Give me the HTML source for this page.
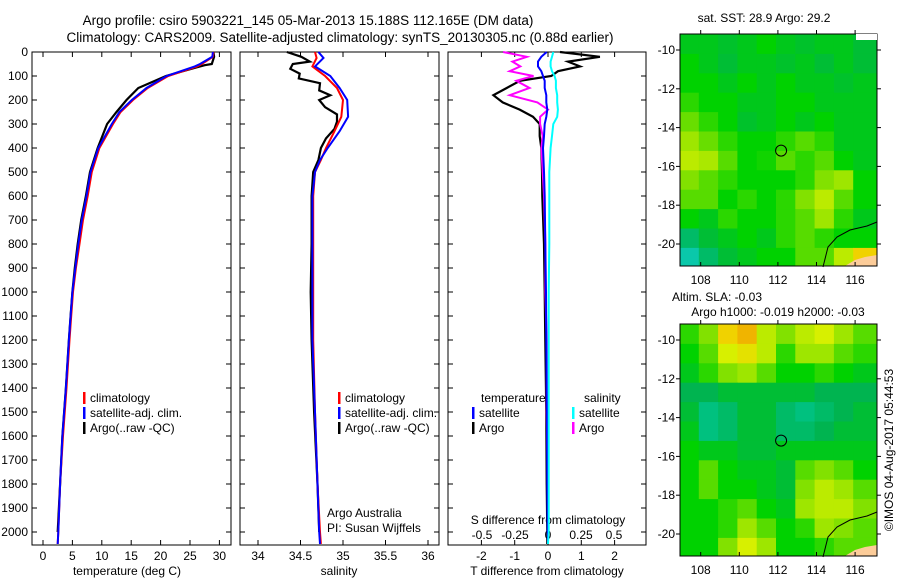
<!DOCTYPE html>
<html><head><meta charset="utf-8"><style>
body{margin:0;background:#fff}
svg{display:block;font-family:"Liberation Sans",sans-serif;font-size:12px}
</style></head><body>
<svg id="c" width="900" height="580" xmlns="http://www.w3.org/2000/svg">
<text x="308" y="25" text-anchor="middle" font-size="13.5">Argo profile: csiro 5903221_145 05-Mar-2013 15.188S 112.165E (DM data)</text>
<text x="340" y="42" text-anchor="middle" font-size="13.5">Climatology: CARS2009. Satellite-adjusted climatology: synTS_20130305.nc (0.88d earlier)</text>
<text x="764" y="22" text-anchor="middle">sat. SST: 28.9 Argo: 29.2</text>
<text x="717" y="301" text-anchor="middle">Altim. SLA: -0.03</text>
<text x="778" y="316" text-anchor="middle">Argo h1000: -0.019 h2000: -0.03</text>
<text transform="translate(893,450) rotate(-90)" text-anchor="middle">©IMOS 04-Aug-2017 05:44:53</text>
<text x="127" y="575" text-anchor="middle">temperature (deg C)</text>
<text x="339" y="575" text-anchor="middle">salinity</text>
<text x="547" y="575" text-anchor="middle">T difference from climatology</text>
<text x="548" y="524" text-anchor="middle">S difference from climatology</text>
<text x="327" y="517">Argo Australia</text>
<text x="327" y="532">PI: Susan Wijffels</text>
</svg>
<script>
const depthTicks=[0,100,200,300,400,500,600,700,800,900,1000,1100,1200,1300,1400,1500,1600,1700,1800,1900,2000];
const tempTicks=[0,5,10,15,20,25,30];
const salTicks=[34,34.5,35,35.5,36];
const salTickLabels=["34","34.5","35","35.5","36"];
const tdTicks=[-2,-1,0,1,2];
const sdTicks=[-0.5,-0.25,0,0.25,0.5];
const sdTickLabels=["-0.5","-0.25","0","0.25","0.5"];
const tDepth=[0,20,50,60,100,150,200,250,300,400,500,600,700,800,900,1000,1100,1200,1400,1600,1800,2000,2050];
const tClim=[29.0,28.9,27.0,26.2,21.3,17.8,15.3,13.2,11.9,9.6,8.3,7.6,6.8,6.2,5.6,5.1,4.8,4.5,4.0,3.4,2.9,2.6,2.5];
const tSat=[28.9,28.8,26.7,25.8,21.0,17.6,15.1,13.0,11.7,9.4,8.1,7.4,6.6,6.0,5.5,5.0,4.7,4.4,3.9,3.3,2.9,2.6,2.5];
const tArgoDepth=[0,20,50,55,65,100,150,200,250,300,400,500,600,700,800,900,1000,1100,1200,1400,1600,1800,2000];
const tArgo=[29.0,29.1,28.7,27.5,26.0,20.9,16.2,14.2,12.5,10.9,9.3,8.0,7.3,6.5,5.9,5.4,5.0,4.7,4.4,3.9,3.3,2.9,2.5];
const sDepth=[0,25,60,100,150,200,270,330,400,450,500,600,800,1000,1200,1500,1800,2000,2050];
const sSat=[34.71,34.77,34.67,34.85,34.96,35.05,35.06,34.96,34.82,34.73,34.67,34.64,34.64,34.64,34.64,34.67,34.7,34.72,34.73];
const sClim=[34.67,34.69,34.64,34.79,34.93,35.0,34.98,34.9,34.8,34.74,34.67,34.65,34.65,34.65,34.65,34.67,34.7,34.73,34.74];
const sArgoDepth=[0,20,40,50,70,90,110,130,160,180,200,230,260,290,320,360,400,450,500,600,800,1000,1200,1500,1800,2000];
const sArgo=[34.34,34.51,34.61,34.41,34.38,34.49,34.48,34.73,34.72,34.85,34.72,34.79,34.93,34.93,34.9,34.8,34.74,34.71,34.65,34.63,34.63,34.62,34.63,34.66,34.7,34.72];
const dDepth=[0,20,40,60,80,100,120,150,180,210,240,270,300,350,400,500,600,800,1000,1200,1500,1800,2000,2050];
const tdSat=[-0.04,-0.2,-0.3,-0.3,-0.2,-0.15,-0.1,-0.1,-0.05,-0.05,-0.02,-0.05,-0.1,-0.12,-0.15,-0.12,-0.1,-0.08,-0.06,-0.05,-0.03,-0.02,-0.01,0];
const sdSat=[0.04,0.03,0.02,0.02,0.03,0.05,0.06,0.06,0.07,0.07,0.075,0.07,0.04,0.03,0.02,0.01,0.01,0.01,0.005,0.005,0.005,0.005,0.005,0];
const tdArgo=[0.36,1.56,0.6,0.96,0.3,0.1,-0.84,-1.24,-1.64,-1.36,-0.85,-0.45,-0.25,-0.25,-0.2,-0.18,-0.17,-0.12,-0.1,-0.08,-0.05,-0.04,-0.02,-0.02];
const sdArgo=[-0.34,-0.16,-0.27,-0.21,-0.29,-0.11,-0.24,-0.14,-0.29,-0.08,0.0,-0.06,-0.06,-0.04,-0.05,-0.04,-0.03,-0.02,-0.02,-0.01,-0.01,0,0,0];
const sstGrid=[
[.45,.45,.42,.45,.5,.45,.42,.45,.45,.4],
[.5,.45,.4,.45,.45,.42,.45,.4,.45,.4],
[.5,.5,.45,.5,.45,.5,.45,.45,.42,.45],
[.55,.5,.5,.45,.45,.5,.5,.45,.45,.45],
[.62,.55,.5,.42,.45,.5,.45,.5,.45,.45],
[.7,.62,.55,.5,.5,.55,.6,.55,.45,.45],
[.75,.72,.6,.5,.52,.6,.55,.6,.5,.45],
[.65,.6,.55,.5,.5,.5,.55,.65,.7,.5],
[.6,.6,.5,.55,.5,.55,.65,.75,.6,.5],
[.5,.45,.55,.5,.5,.55,.6,.7,.55,.45],
[.3,.4,.45,.5,.45,.55,.6,.55,.5,.5],
[.15,.3,.4,.45,.5,.5,.6,.6,.75,.9]];
const slaGrid=[
[.55,.65,.9,.95,.75,.65,.75,.8,.7,.6],
[.5,.6,.8,.85,.75,.55,.7,.7,.6,.55],
[.45,.55,.65,.7,.6,.5,.5,.55,.5,.45],
[.35,.35,.4,.4,.4,.4,.4,.35,.35,.35],
[.4,.25,.3,.4,.4,.3,.25,.3,.35,.4],
[.45,.25,.3,.4,.4,.3,.3,.35,.4,.4],
[.5,.45,.45,.4,.4,.45,.45,.45,.45,.45],
[.5,.6,.5,.45,.45,.4,.6,.65,.6,.5],
[.5,.6,.5,.5,.45,.4,.65,.75,.7,.6],
[.5,.5,.55,.6,.5,.45,.7,.75,.75,.65],
[.5,.5,.55,.7,.6,.5,.55,.7,.65,.6],
[.5,.5,.65,.8,.7,.5,.5,.55,.6,.6]];
const lonTicks=[108,110,112,114,116];
const latTicks=[-10,-12,-14,-16,-18,-20];
const floatLon=112.165, floatLat=-15.188;

const NS="http://www.w3.org/2000/svg";
const svg=document.getElementById('c');
function mk(tag,attrs,parent){const e=document.createElementNS(NS,tag);for(const k in attrs)e.setAttribute(k,attrs[k]);(parent||svg).appendChild(e);return e;}
const Y=d=>52+d*0.24;
const P1={x0:32,x1:231},P2={x0:240,x1:439},P3={x0:448,x1:646},TOP=52,BOT=545;
const xT=v=>43+v*5.88, xS=v=>258+(v-34)*85, xTD=v=>548+v*33.3, xSD=v=>548+v*132;

function line(xs,ds,fx,color,name,w){
  const pts=xs.map((v,i)=>fx(v).toFixed(1)+','+Y(ds[i]).toFixed(1)).join(' ');
  const p=mk('polyline',{points:pts,fill:'none',stroke:color,'stroke-width':w||2});
  
  
}
function frame(P,name){
  const r=mk('rect',{x:P.x0,y:TOP,width:P.x1-P.x0,height:BOT-TOP,fill:'none',stroke:'#000','stroke-width':1});
  
  
  depthTicks.forEach(d=>{mk('line',{x1:P.x0,x2:P.x0+5,y1:Y(d),y2:Y(d),stroke:'#000'});mk('line',{x1:P.x1-5,x2:P.x1,y1:Y(d),y2:Y(d),stroke:'#000'});});
}
function xaxis(ticks,labels,fx,ly,name){
  ticks.forEach((v,i)=>{const x=fx(v);
    mk('line',{x1:x,x2:x,y1:BOT-5,y2:BOT,stroke:'#000'});mk('line',{x1:x,x2:x,y1:TOP,y2:TOP+5,stroke:'#000'});
    const t=mk('text',{x:x,y:ly,'text-anchor':'middle'});t.textContent=labels[i];
    
    });
}
frame(P1,'temperature-panel');frame(P2,'salinity-panel');frame(P3,'difference-panel');
depthTicks.forEach(d=>{const t=mk('text',{x:28,y:Y(d)+4,'text-anchor':'end'});t.textContent=d;
  
  });
xaxis(tempTicks,tempTicks.map(String),xT,560,'temperature-tick-label');
xaxis(salTicks,salTickLabels,xS,560,'salinity-tick-label');
xaxis(tdTicks,tdTicks.map(String),xTD,560,'tdiff-tick-label');
sdTicks.forEach((v,i)=>{const t=mk('text',{x:xSD(v),y:539,'text-anchor':'middle'});t.textContent=sdTickLabels[i];
  
  });

line(tArgo,tArgoDepth,xT,'#000','temp-argo-line',2.2);
line(tClim,tDepth,xT,'#f00','temp-clim-line');
line(tSat,tDepth,xT,'#00f','temp-sat-line');
line(sArgo,sArgoDepth,xS,'#000','sal-argo-line',2.2);
line(sClim,sDepth,xS,'#f00','sal-clim-line');
line(sSat,sDepth,xS,'#00f','sal-sat-line');
line(tdArgo,dDepth,xTD,'#000','tdiff-argo-line',2.2);
line(sdArgo,dDepth,xSD,'#f0f','sdiff-argo-line');
line(tdSat,dDepth,xTD,'#00f','tdiff-sat-line');
line(sdSat,dDepth,xSD,'#0ff','sdiff-sat-line');

function legend(x,y,items,name){
  items.forEach((it,i)=>{const yy=y+i*15;
    mk('rect',{x:x,y:yy-10,width:2.5,height:12,fill:it[1]});
    const t=mk('text',{x:x+7,y:yy});t.textContent=it[0];
    
    });
}
const li=[["climatology","#f00"],["satellite-adj. clim.","#00f"],["Argo(..raw -QC)","#000"]];
legend(83,402,li,'temp-legend-entry');
legend(338,402,li,'sal-legend-entry');
legend(472,417,[["satellite","#00f"],["Argo","#000"]],'tdiff-legend-entry');
legend(572,417,[["satellite","#0ff"],["Argo","#f0f"]],'sdiff-legend-entry');
let t=mk('text',{x:481,y:402});t.textContent='temperature';

t=mk('text',{x:584,y:402});t.textContent='salinity';


const stops=[[0,[40,200,230]],[0.2,[0,200,150]],[0.35,[0,180,80]],[0.5,[0,210,0]],[0.65,[130,225,0]],[0.8,[215,240,0]],[0.9,[240,210,0]],[1,[240,150,0]]];
function col(v){for(let i=1;i<stops.length;i++){if(v<=stops[i][0]){const a=stops[i-1],b=stops[i],f=(v-a[0])/(b[0]-a[0]);return 'rgb('+a[1].map((c,k)=>Math.round(c+(b[1][k]-c)*f)).join(',')+')';}}return 'rgb(240,150,0)';}
function map(y0,grid,name){
  const X0=680,X1=877,Y0=y0,Y1=y0+232;
  const lx=lon=>700.7+(lon-108)*19.3, ly=lat=>Y0+16+(-10-lat)*19.4;
  const g=mk('g',{});
  grid.forEach((row,r)=>row.forEach((v,c)=>{
    const x=Math.max(lx(106.9+c),X0),y=Math.max(ly(-9.2-r),Y0);
    const xe=(c===row.length-1)?X1:Math.min(lx(107.9+c),X1);
    const ye=(r===grid.length-1)?Y1:Math.min(ly(-10.2-r),Y1);
    const cell=mk('rect',{x:x.toFixed(1),y:y.toFixed(1),width:(xe-x+0.5).toFixed(1),height:(ye-y+0.5).toFixed(1),fill:col(v)},g);
    
    
  }));
  mk('polygon',{points:`845,${Y1} 855,${Y1-6} 865,${Y1-9} ${X1},${Y1-11} ${X1},${Y1}`,fill:'#fccc99'},g);
  mk('polyline',{points:`823,${Y1+1} 828,${Y1-19} 837,${Y1-29} 850,${Y1-36} 867,${Y1-40} ${X1},${Y1-44}`,fill:'none',stroke:'#000','stroke-width':1},g);
  const cir=mk('circle',{cx:lx(floatLon),cy:ly(floatLat),r:5.5,fill:'none',stroke:'#000','stroke-width':1});
  
  mk('rect',{x:X0,y:Y0,width:X1-X0,height:Y1-Y0,fill:'none',stroke:'#000'});
  lonTicks.forEach(l=>{const x=lx(l);mk('line',{x1:x,x2:x,y1:Y1,y2:Y1-4,stroke:'#000'});mk('line',{x1:x,x2:x,y1:Y0,y2:Y0-4,stroke:'#000'});
    const tt=mk('text',{x:x,y:Y1+18,'text-anchor':'middle'});tt.textContent=l;
    });
  latTicks.forEach(l=>{const y=ly(l);mk('line',{x1:X0-4,x2:X0,y1:y,y2:y,stroke:'#000'});mk('line',{x1:X1,x2:X1+4,y1:y,y2:y,stroke:'#000'});
    const tt=mk('text',{x:X0-5,y:y+4,'text-anchor':'end'});tt.textContent=l;
    });
}
map(34,sstGrid,'sst-map');
mk('rect',{x:856,y:34,width:21,height:6,fill:'#fff'});
map(324,slaGrid,'sla-map');
</script>
</body></html>
